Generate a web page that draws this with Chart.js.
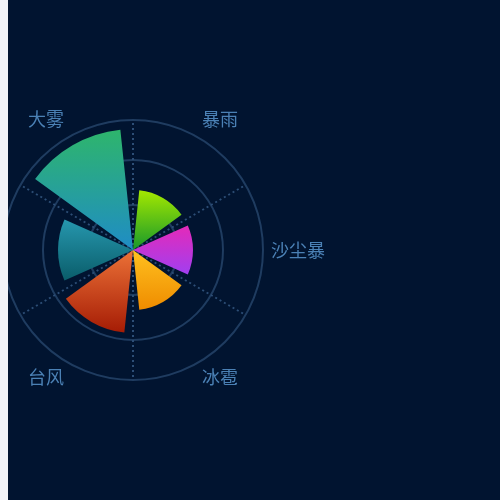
<!DOCTYPE html>
<html>
<head>
<meta charset="utf-8">
<script src="https://cdn.jsdelivr.net/npm/chart.js@4.4.1/dist/chart.umd.min.js"></script>
<style>
  html, body { margin: 0; padding: 0; background: #f1f3f7; width: 500px; height: 500px; overflow: hidden; }
  #panel { position: absolute; left: 8px; top: 0; width: 492px; height: 500px; background: #011430; overflow: hidden; }
  #c { position: absolute; left: -58px; top: 58px; }
</style>
</head>
<body>
<div id="panel"><canvas id="c" width="384" height="384"></canvas></div>
<script>
// ---- data ----
const categories = ['暴雨', '沙尘暴', '冰雹', '台风', '寒潮', '大雾'];
const values = [60, 60, 60, 83, 75, 121];
const radialTicks = [0, 45, 90, 130];
const topColors = ['#a4e800', '#e42ab9', '#ffc11f', '#ec7237', '#2697ae', '#2eb56c'];
const bottomColors = ['#17982b', '#a13ff0', '#ef8c00', '#a51c05', '#0a5d6a', '#1f8cc6'];

// ---- layout of sectors (angles in degrees) ----
const SWEEP = 48, GAP = 12;
const STEP = 360 / categories.length;
const rData = [], arcAngles = [];
rData.push(0); arcAngles.push(GAP / 2);
values.forEach((v, k) => {
  rData.push(v); arcAngles.push(SWEEP);
  rData.push(0); arcAngles.push(k === values.length - 1 ? GAP / 2 : GAP);
});

function sectorFill(ctx) {
  const i = ctx.dataIndex;
  if (i % 2 === 0) return 'rgba(0,0,0,0)';
  const k = (i - 1) / 2;
  const chart = ctx.chart, scale = chart.scales && chart.scales.r;
  if (!scale || scale.yCenter === undefined) return topColors[k];
  const r = scale.getDistanceFromCenterForValue(values[k]);
  const a1 = (k * STEP + GAP / 2) * Math.PI / 180;
  const a2 = a1 + SWEEP * Math.PI / 180;
  const ys = [scale.yCenter, scale.yCenter - r * Math.cos(a1), scale.yCenter - r * Math.cos(a2)];
  const y0 = Math.min.apply(null, ys), y1 = Math.max.apply(null, ys);
  const g = chart.ctx.createLinearGradient(0, y0, 0, y1);
  g.addColorStop(0, topColors[k]);
  g.addColorStop(1, bottomColors[k]);
  return g;
}

function labelFont(ctx) {
  // labels in the lower half sit a little closer to the ring
  const a = (ctx.index + 0.5) * STEP;
  const lower = a > 90 && a < 270;
  return { size: 18, family: "'Noto Sans CJK SC', 'Noto Sans', sans-serif", lineHeight: lower ? 0.83 : 1.25 };
}

const canvas = document.getElementById('c');
const chart = new Chart(canvas, {
  type: 'polarArea',
  data: {
    datasets: [{
      data: rData,
      angle: (ctx) => arcAngles[ctx.dataIndex],
      backgroundColor: sectorFill,
      borderWidth: 0,
      hoverBackgroundColor: sectorFill
    }]
  },
  options: {
    responsive: false,
    animation: false,
    layout: { padding: 0 },
    plugins: { legend: { display: false }, tooltip: { enabled: false } },
    scales: {
      r: {
        labels: categories,
        min: 0,
        max: radialTicks[radialTicks.length - 1],
        startAngle: 0,
        afterBuildTicks: (scale) => { scale.ticks = radialTicks.map(v => ({ value: v })); },
        ticks: { display: false },
        grid: { circular: true, color: '#1f3c60', lineWidth: 2 },
        angleLines: { display: true, color: '#2d4e76', lineWidth: 2, borderDash: [2, 3] },
        pointLabels: {
          display: true,
          centerPointLabels: true,
          padding: 8,
          color: '#4b81b5',
          font: labelFont
        }
      }
    }
  }
});

// place the chart so that its centre sits where the reference has it
const CX = 133, CY = 250;
const sc = chart.scales.r;
canvas.style.left = (CX - 8 - sc.xCenter) + 'px';
canvas.style.top = (CY - sc.yCenter) + 'px';
</script>
</body>
</html>
